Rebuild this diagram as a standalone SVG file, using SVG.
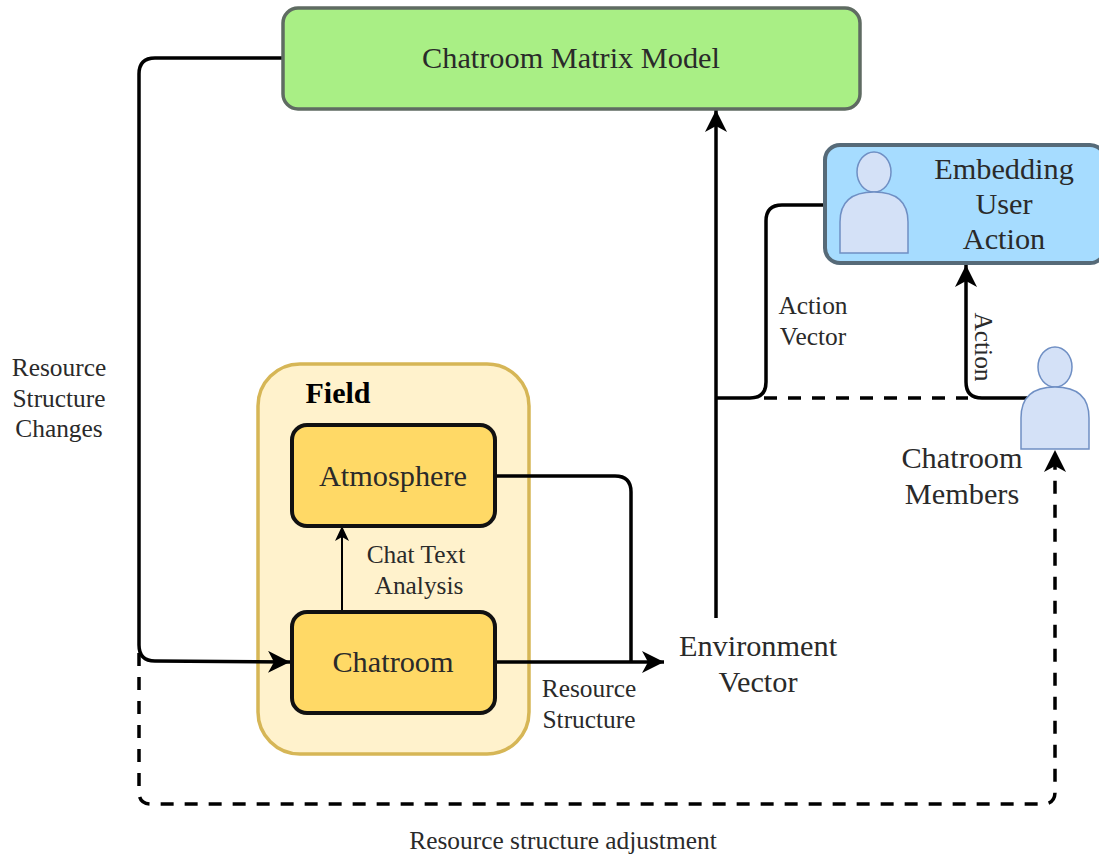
<svg xmlns="http://www.w3.org/2000/svg" width="1099" height="856" viewBox="0 0 1099 856">
<style>
text{font-family:"Liberation Serif","Times New Roman",serif;fill:#2a2a2a;text-anchor:middle}
.s{font-size:25.4px}.m{font-size:30.3px}
.c{fill:none;stroke:#000;stroke-width:3.5}
.d{stroke-dasharray:13 11}
.p{fill:#d4e1f7;stroke:#6f8fc4;stroke-width:1.5}
.o{fill:#ffd966;stroke:#111;stroke-width:4}
</style>
<defs>
<marker id="a" markerUnits="userSpaceOnUse" markerWidth="24" markerHeight="22" refX="22" refY="11" orient="auto"><path d="M0 0L22 11L0 22L6 11Z" fill="#000"/></marker>
<marker id="b" markerUnits="userSpaceOnUse" markerWidth="16" markerHeight="14" refX="15" refY="7" orient="auto"><path d="M0 0L15 7L0 14L4 7Z" fill="#000"/></marker>
</defs>
<rect width="1099" height="856" fill="#fff"/>
<g id="field"><rect x="258" y="364" width="271" height="390" rx="42" fill="#fff2cc" stroke="#d6b656" stroke-width="3.5"/><text x="338" y="403" style="font-size:30px;font-weight:bold;fill:#000">Field</text></g>
<g id="connectors">
<path class="c" d="M283 58H155Q139 58 139 74V645Q139 661 155 661L290 662" marker-end="url(#a)"/>
<path class="c" d="M497 662H664" marker-end="url(#a)"/>
<path class="c" d="M497 476H615Q631 476 631 492V662"/>
<path d="M342 612V526" fill="none" stroke="#000" stroke-width="2" marker-end="url(#b)"/>
<path class="c" d="M716 618V110" marker-end="url(#a)"/>
<path class="c" d="M716 398H750Q766 398 766 382V221Q766 205 782 205H825"/>
<path class="c d" d="M764 398H968"/>
<path class="c" d="M1028 398H982Q966 398 966 382V265" marker-end="url(#a)"/>
<path class="c d" d="M139 653V792Q139 804 151 804H1043Q1055 804 1055 792V450" marker-end="url(#a)"/>
</g>
<g id="matrix-model"><rect x="283" y="8" width="577" height="101" rx="15" fill="#a9ef85" stroke="#5f6b62" stroke-width="3.5"/><text x="571" y="68" class="m">Chatroom Matrix Model</text></g>
<g id="embedding"><rect x="825" y="145" width="280" height="118" rx="15" fill="#a6dcff" stroke="#566a78" stroke-width="4"/>
<ellipse class="p" cx="874" cy="172" rx="17" ry="20"/><path class="p" d="M840 253V222Q840 192 874 192Q908 192 908 222V253Z"/>
<text x="1004" y="179" class="m">Embedding</text><text x="1004" y="214" class="m">User</text><text x="1004" y="249" class="m">Action</text></g>
<g id="atmosphere"><rect class="o" x="292" y="425" width="203" height="101" rx="15"/><text x="393" y="486" class="m">Atmosphere</text></g>
<g id="chatroom"><rect class="o" x="292" y="612" width="203" height="101" rx="15"/><text x="393" y="672" class="m">Chatroom</text></g>
<g id="members"><ellipse class="p" cx="1055" cy="367" rx="17" ry="20"/><path class="p" d="M1021 449V418Q1021 387 1055 387Q1089 387 1089 418V449Z"/>
<text x="962" y="468" class="m">Chatroom</text><text x="962" y="504" class="m">Members</text></g>
<g id="labels">
<text x="59" y="376" class="s">Resource</text><text x="59" y="407" class="s">Structure</text><text x="59" y="437" class="s">Changes</text>
<text x="416" y="563" class="s">Chat Text</text><text x="419" y="594" class="s">Analysis</text>
<text x="589" y="697" class="s">Resource</text><text x="589" y="728" class="s">Structure</text>
<text x="758" y="656" class="m">Environment</text><text x="758" y="692" class="m">Vector</text>
<text x="813" y="314" class="s">Action</text><text x="813" y="345" class="s">Vector</text>
<text transform="translate(975 347) rotate(90)" class="s">Action</text>
<text x="563" y="849" class="s">Resource structure adjustment</text>
</g>
</svg>
